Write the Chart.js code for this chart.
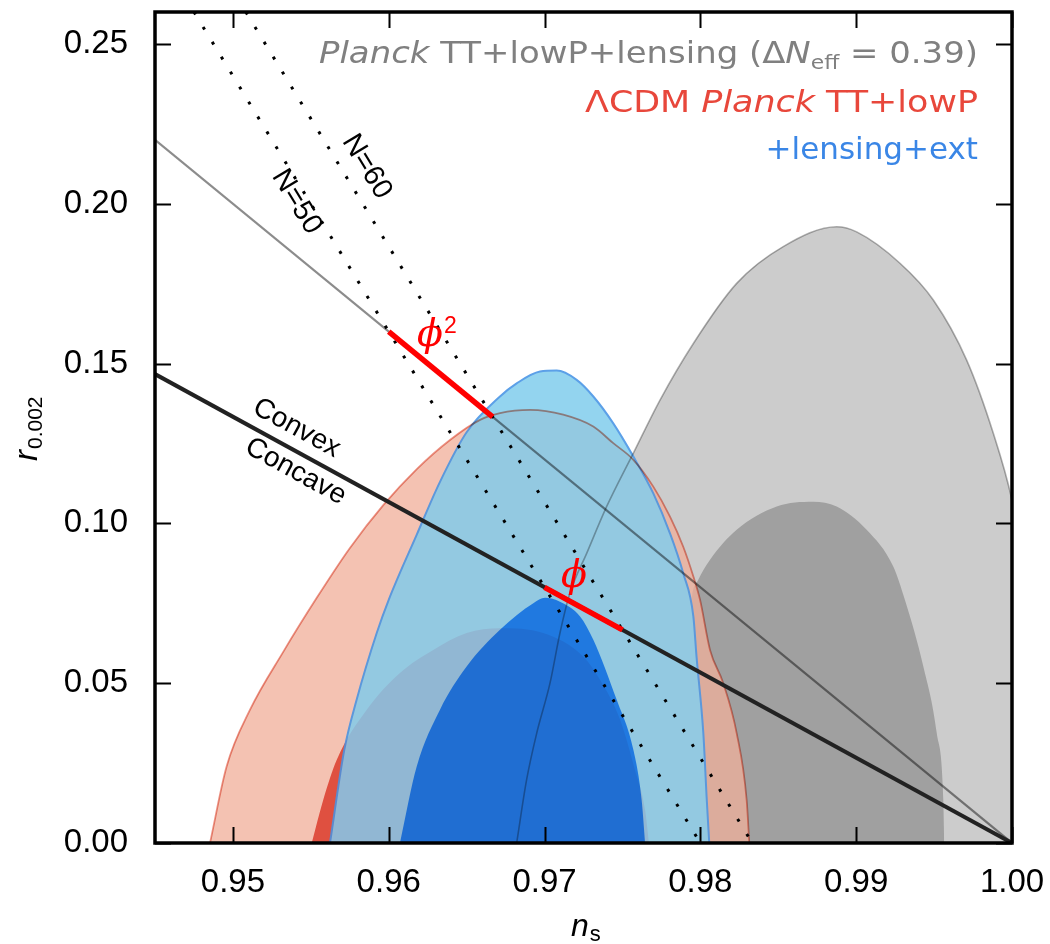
<!DOCTYPE html>
<html>
<head>
<meta charset="utf-8">
<script src="https://cdn.jsdelivr.net/npm/chart.js@4/dist/chart.umd.min.js"></script>
<style>
  html, body { margin: 0; padding: 0; background: #ffffff; }
  #wrap { width: 1050px; height: 944px; position: relative; }
</style>
</head>
<body>
<div id="wrap"><canvas id="chart"></canvas></div>
<script>
// ---- axis ticks ----
const nsTicks = [0.95, 0.96, 0.97, 0.98, 0.99, 1.00];
const rTicks = [0.00, 0.05, 0.10, 0.15, 0.20, 0.25];

// ---- Planck TT+lowP+lensing with ΔNeff = 0.39 (upper edge of each region) ----
const grey95Ns = [0.96821, 0.96885, 0.96950, 0.97035, 0.97099, 0.97163, 0.97271, 0.97399, 0.97570, 0.97741, 0.97955, 0.98233, 0.98532, 0.98875, 0.99003, 0.99281, 0.99495, 0.99709, 0.99880, 1.00000, 1.00120, 1.00200, 1.00250];
const grey95R  = [0.0000, 0.0198, 0.0344, 0.0500, 0.0657, 0.0782, 0.0907, 0.1053, 0.1220, 0.1386, 0.1563, 0.1751, 0.1866, 0.1928, 0.1912, 0.1814, 0.1699, 0.1511, 0.1282, 0.1073, 0.0750, 0.0400, 0.0000];
const grey68Ns = [0.97900, 0.97915, 0.97940, 0.97985, 0.98060, 0.98233, 0.98490, 0.98725, 0.98875, 0.99067, 0.99238, 0.99313, 0.99431, 0.99517, 0.99559, 0.99565];
const grey68R  = [0.0000, 0.0450, 0.0740, 0.0822, 0.0885, 0.0980, 0.1053, 0.1068, 0.1053, 0.0980, 0.0865, 0.0760, 0.0552, 0.0344, 0.0135, 0.0000];

// ---- ΛCDM Planck TT+lowP ----
const red95Ns = [0.94853, 0.94960, 0.95110, 0.95323, 0.95538, 0.95751, 0.95965, 0.96180, 0.96393, 0.96586, 0.96714, 0.96907, 0.97120, 0.97313, 0.97441, 0.97570, 0.97698, 0.97805, 0.97890, 0.97955, 0.97998, 0.98062, 0.98147, 0.98233, 0.98297, 0.98314];
const red95R  = [0.0000, 0.0240, 0.0417, 0.0598, 0.0767, 0.0923, 0.1057, 0.1170, 0.1261, 0.1324, 0.1345, 0.1355, 0.1340, 0.1303, 0.1251, 0.1199, 0.1115, 0.1021, 0.0927, 0.0834, 0.0761, 0.0604, 0.0500, 0.0344, 0.0135, 0.0000];
const red68Ns = [0.95506, 0.95580, 0.95666, 0.95859, 0.96072, 0.96286, 0.96500, 0.96714, 0.96992, 0.97249, 0.97356, 0.97485, 0.97580, 0.97645, 0.97670];
const red68R  = [0.0000, 0.0135, 0.0260, 0.0417, 0.0532, 0.0604, 0.0657, 0.0672, 0.0657, 0.0583, 0.0511, 0.0386, 0.0229, 0.0104, 0.0000];

// ---- +lensing+ext ----
const blue95Ns = [0.95623, 0.95715, 0.95794, 0.95923, 0.96000, 0.96180, 0.96329, 0.96500, 0.96714, 0.96821, 0.96971, 0.97078, 0.97206, 0.97313, 0.97441, 0.97570, 0.97698, 0.97805, 0.97890, 0.97955, 0.97976, 0.98019, 0.98041, 0.98057];
const blue95R  = [0.0000, 0.0292, 0.0448, 0.0657, 0.0761, 0.0965, 0.1130, 0.1285, 0.1397, 0.1438, 0.1475, 0.1478, 0.1449, 0.1397, 0.1313, 0.1209, 0.1094, 0.0969, 0.0844, 0.0709, 0.0580, 0.0344, 0.0136, 0.0000];
const blue68Ns = [0.96072, 0.96180, 0.96329, 0.96500, 0.96714, 0.96928, 0.97003, 0.97099, 0.97228, 0.97313, 0.97463, 0.97570, 0.97623, 0.97645];
const blue68R  = [0.0000, 0.0240, 0.0417, 0.0552, 0.0667, 0.0750, 0.0767, 0.0755, 0.0709, 0.0636, 0.0448, 0.0292, 0.0135, 0.0000];

// ---- model predictions ----
const phi2LineNs = [0.945, 1.000];     // boundary through φ²
const phi2LineR  = [0.2200, 0.0000];
const convexNs   = [0.945, 1.000];     // convex / concave boundary
const convexR    = [0.1467, 0.0000];
const n50Ns = [0.9475, 0.9800];
const n50R  = [0.2600, 0.0000];
const n60Ns = [0.95083, 0.98333];
const n60R  = [0.2600, 0.0000];
const phi2SegNs = [0.96000, 0.96667];
const phi2SegR  = [0.1600, 0.1333];
const phiSegNs  = [0.97000, 0.97500];
const phiSegR   = [0.0800, 0.0667];

const pts = (ns, r) => ns.map((x, i) => ({ x, y: r[i] }));

const datasets = [];
function add(ds) {
  datasets.push(Object.assign({
    pointRadius: 0, pointHoverRadius: 0, pointHitRadius: 0,
    tension: 0, clip: 0, fill: false,
    borderWidth: 0, borderColor: 'rgba(0,0,0,0)', backgroundColor: 'rgba(0,0,0,0)'
  }, ds));
}
// smooth outline for the confidence regions
const smooth = { cubicInterpolationMode: 'monotone' };

// filled regions, bottom to top (higher order is painted first)
add({ ...smooth, label: 'grey95', data: pts(grey95Ns, grey95R), fill: 'origin', backgroundColor: 'rgb(204,204,204)', order: 40 });
add({ ...smooth, label: 'grey68', data: pts(grey68Ns, grey68R), fill: 'origin', backgroundColor: 'rgb(160,160,160)', order: 39 });
add({ ...smooth, label: 'red95',  data: pts(red95Ns, red95R),   fill: 'origin', backgroundColor: 'rgba(240,188,167,0.75)', order: 38 });
add({ ...smooth, label: 'red68',  data: pts(red68Ns, red68R),   fill: 'origin', backgroundColor: 'rgb(226,93,72)', order: 37 });
add({ ...smooth, label: 'blue95', data: pts(blue95Ns, blue95R), fill: 'origin', backgroundColor: 'rgb(147,212,239)',
      borderColor: 'rgb(92,160,232)', borderWidth: 2, order: 36 });
add({ ...smooth, label: 'blue68', data: pts(blue68Ns, blue68R), fill: 'origin', backgroundColor: 'rgb(32,128,237)', order: 35 });
// the red and grey regions show through the blue ones
add({ ...smooth, label: 'red95 tint', data: pts(red95Ns, red95R), fill: 'origin', backgroundColor: 'rgb(255,242,241)',
      borderColor: 'rgb(236,150,136)', borderWidth: 1.8, blend: 'multiply', order: 34 });
add({ ...smooth, label: 'red68 tint', data: pts(red68Ns, red68R), fill: 'origin', backgroundColor: 'rgb(252,232,240)',
      blend: 'multiply', order: 33 });
add({ ...smooth, label: 'grey95 edge', data: pts(grey95Ns, grey95R), borderColor: 'rgb(178,178,178)', borderWidth: 1.6,
      blend: 'multiply', order: 32 });

// model lines
add({ label: 'phi2 line', data: pts(phi2LineNs, phi2LineR), borderColor: 'rgb(140,140,140)', borderWidth: 2.2,
      blend: 'multiply', order: 20 });
add({ label: 'N=50', data: pts(n50Ns, n50R), borderColor: '#000', borderWidth: 3, borderDash: [3, 14.5],
      borderCapStyle: 'butt', order: 19 });
add({ label: 'N=60', data: pts(n60Ns, n60R), borderColor: '#000', borderWidth: 3, borderDash: [3, 14.5],
      borderCapStyle: 'butt', order: 18 });
add({ label: 'convex', data: pts(convexNs, convexR), borderColor: 'rgb(34,34,34)', borderWidth: 4, order: 17 });
add({ label: 'phi2', data: pts(phi2SegNs, phi2SegR), borderColor: 'rgb(255,0,0)', borderWidth: 5.5, order: 16 });
add({ label: 'phi',  data: pts(phiSegNs, phiSegR),   borderColor: 'rgb(255,0,0)', borderWidth: 5.5, order: 15 });

const SANS = '"Liberation Sans", Arial, sans-serif';
const LEG = '"DejaVu Sans", sans-serif';

// text set along the model lines
const lineLabels = [
  { text: 'N=50',    ns: 0.95409, r: 0.2006, along: [n50Ns, n50R] },
  { text: 'N=60',    ns: 0.95859, r: 0.2116, along: [n60Ns, n60R] },
  { text: 'Convex',  ns: 0.95409, r: 0.1298, along: [convexNs, convexR] },
  { text: 'Concave', ns: 0.95403, r: 0.1162, along: [convexNs, convexR] }
];
const modelLabels = [
  { text: 'ϕ', sup: '2', ns: 0.96265, r: 0.1586 },
  { text: 'ϕ', sup: '',  ns: 0.97189, r: 0.0833 }
];
// legend lines; span = width of each line in px
const legendLines = [
  { color: '#808080', span: 659, runs: [['Planck', 'i'], [' TT+lowP+lensing (Δ', 'n'], ['N', 'i'], ['eff', 'sub'], [' = 0.39)', 'n']] },
  { color: '#e8473b', span: 393, runs: [['ΛCDM ', 'n'], ['Planck', 'i'], [' TT+lowP', 'n']] },
  { color: '#3a86e6', span: 207, runs: [['+lensing+ext', 'n']] }
];

function blendOf(chart, meta) {
  return (meta && chart.data.datasets[meta.index].blend) || 'source-over';
}

function runFont(kind) {
  if (kind === 'i') return 'italic 31px ' + LEG;
  if (kind === 'sub') return '20px ' + LEG;
  return '31px ' + LEG;
}

const figurePlugin = {
  id: 'figure',
  beforeDatasetsDraw(chart) {
    const metas = chart.getSortedVisibleDatasetMetas();
    chart.ctx.globalCompositeOperation = blendOf(chart, metas[metas.length - 1]);
  },
  afterDatasetDraw(chart, args) {
    const metas = chart.getSortedVisibleDatasetMetas();
    const i = metas.indexOf(args.meta);
    chart.ctx.globalCompositeOperation = i > 0 ? blendOf(chart, metas[i - 1]) : 'source-over';
  },
  afterDatasetsDraw(chart) {
    const ctx = chart.ctx;
    const xs = chart.scales.x, ys = chart.scales.y;
    const a = chart.chartArea;
    ctx.save();
    ctx.globalCompositeOperation = 'source-over';

    // labels along the lines
    ctx.fillStyle = '#000';
    ctx.textAlign = 'center';
    ctx.textBaseline = 'middle';
    lineLabels.forEach(l => {
      const [lns, lr] = l.along;
      const ang = Math.atan2(ys.getPixelForValue(lr[1]) - ys.getPixelForValue(lr[0]),
                             xs.getPixelForValue(lns[1]) - xs.getPixelForValue(lns[0]));
      ctx.font = (l.text.length > 4 ? '28px ' : '29px ') + SANS;
      ctx.save();
      ctx.translate(xs.getPixelForValue(l.ns), ys.getPixelForValue(l.r));
      ctx.rotate(ang);
      ctx.fillText(l.text, 0, 0);
      ctx.restore();
    });

    // ϕ and ϕ² tags
    ctx.fillStyle = 'rgb(255,0,0)';
    modelLabels.forEach(m => {
      const px = xs.getPixelForValue(m.ns), py = ys.getPixelForValue(m.r);
      ctx.font = 'italic 38px "DejaVu Serif", serif';
      ctx.textAlign = 'center';
      ctx.textBaseline = 'middle';
      ctx.fillText(m.text, px, py);
      if (m.sup) {
        const w = ctx.measureText(m.text).width;
        ctx.font = '23px ' + SANS;
        ctx.textAlign = 'left';
        ctx.textBaseline = 'alphabetic';
        ctx.fillText(m.sup, px + w / 2 + 1, py - 3);
      }
    });

    // legend text, right aligned inside the frame, widened to its span
    ctx.textAlign = 'left';
    ctx.textBaseline = 'alphabetic';
    const right = a.right - 34;
    const baselines = [a.top + 51, a.top + 100, a.top + 147];
    legendLines.forEach((ln, k) => {
      let natural = 0;
      ln.runs.forEach(([t, kind]) => { ctx.font = runFont(kind); natural += ctx.measureText(t).width; });
      const sx = Math.max(1, ln.span / natural);
      ctx.save();
      ctx.translate(right - natural * sx, baselines[k]);
      ctx.scale(sx, 1);
      ctx.fillStyle = ln.color;
      let x = 0;
      ln.runs.forEach(([t, kind]) => {
        ctx.font = runFont(kind);
        ctx.fillText(t, x, kind === 'sub' ? 6 : 0);
        x += ctx.measureText(t).width;
      });
      ctx.restore();
    });

    // inward ticks on all four sides
    ctx.strokeStyle = '#000';
    ctx.lineWidth = 2;
    const tl = 16;
    nsTicks.forEach(v => {
      const x = Math.round(xs.getPixelForValue(v)) + 0.5;
      ctx.beginPath();
      ctx.moveTo(x, a.bottom); ctx.lineTo(x, a.bottom - tl);
      ctx.moveTo(x, a.top); ctx.lineTo(x, a.top + tl);
      ctx.stroke();
    });
    rTicks.forEach(v => {
      const y = Math.round(ys.getPixelForValue(v)) + 0.5;
      ctx.beginPath();
      ctx.moveTo(a.left, y); ctx.lineTo(a.left + tl, y);
      ctx.moveTo(a.right, y); ctx.lineTo(a.right - tl, y);
      ctx.stroke();
    });

    // frame
    ctx.lineWidth = 3.5;
    ctx.strokeRect(a.left, a.top, a.right - a.left, a.bottom - a.top);

    // axis titles
    ctx.fillStyle = '#000';
    ctx.font = 'italic 32px ' + SANS;
    const nW = ctx.measureText('n').width;
    ctx.fillText('n', 571, a.bottom + 93);
    ctx.font = '22px ' + SANS;
    ctx.fillText('s', 571 + nW + 1, a.bottom + 98);

    ctx.save();
    ctx.translate(37, 461);
    ctx.rotate(-Math.PI / 2);
    ctx.font = 'italic 33px ' + SANS;
    const rW = ctx.measureText('r').width;
    ctx.fillText('r', 0, 0);
    ctx.font = '21px ' + SANS;
    ctx.fillText('0.002', rW + 1, 5);
    ctx.restore();

    ctx.restore();
  }
};

new Chart(document.getElementById('chart'), {
  type: 'line',
  data: { datasets },
  options: {
    responsive: true,
    maintainAspectRatio: false,
    animation: false,
    events: [],
    layout: { padding: { left: 0, right: 38, top: 12, bottom: 0 } },
    plugins: { legend: { display: false }, tooltip: { enabled: false }, title: { display: false } },
    scales: {
      x: {
        type: 'linear', min: 0.945, max: 1.0,
        grid: { display: false }, border: { display: false },
        afterBuildTicks: s => { s.ticks = nsTicks.map(v => ({ value: v })); },
        afterFit: s => { s.height = 101; s.paddingLeft = 0; s.paddingRight = 0; },
        ticks: { padding: 12, color: '#000', font: { family: SANS, size: 33 }, maxRotation: 0,
                 callback: v => Number(v).toFixed(2) }
      },
      y: {
        type: 'linear', min: 0, max: 0.26,
        grid: { display: false }, border: { display: false },
        afterBuildTicks: s => { s.ticks = rTicks.map(v => ({ value: v })); },
        afterFit: s => { s.width = 155; s.paddingTop = 0; s.paddingBottom = 0; },
        ticks: { padding: 19, color: '#000', font: { family: SANS, size: 33 },
                 callback: v => Number(v).toFixed(2) }
      }
    }
  },
  plugins: [figurePlugin]
});
</script>
</body>
</html>
